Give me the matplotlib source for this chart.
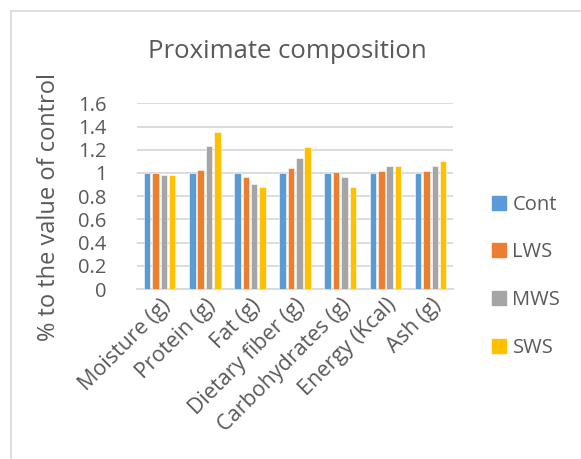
import numpy as np
import matplotlib
matplotlib.use("Agg")
import matplotlib.pyplot as plt
from matplotlib.lines import Line2D

categories = ["Moisture (g)", "Protein (g)", "Fat (g)", "Dietary fiber (g)",
              "Carbohydrates (g)", "Energy (Kcal)", "Ash (g)"]
cont = [1.0, 1.0, 1.0, 1.0, 1.0, 1.0, 1.0]
lws = [0.997, 1.026, 0.968, 1.046, 1.011, 1.014, 1.020]
mws = [0.985, 1.236, 0.908, 1.129, 0.966, 1.063, 1.060]
sws = [0.985, 1.356, 0.879, 1.227, 0.879, 1.063, 1.106]
series = ["Cont", "LWS", "MWS", "SWS"]
colors = ["#5B9BD5", "#ED7D31", "#A5A5A5", "#FFC000"]
yticks = [0, 0.2, 0.4, 0.6, 0.8, 1, 1.2, 1.4, 1.6]
ytick_labels = ["0", "0.2", "0.4", "0.6", "0.8", "1", "1.2", "1.4", "1.6"]

txt = "#595959"
plt.rcParams['font.family'] = ['Open Sans', 'DejaVu Sans']

fig = plt.figure(figsize=(5.81, 4.59), dpi=100)
ax = fig.add_axes([0.236, 0.370, 0.544, 0.405])

x = np.arange(len(categories))
pitch = 0.185
width = 0.145
for i, (vals, c) in enumerate(zip([cont, lws, mws, sws], colors)):
    ax.bar(x + (i - 1.5) * pitch, vals, width, color=c, zorder=3,
           edgecolor="white", linewidth=0.4, label=series[i])

ax.set_xlim(-0.5, len(categories) - 0.5)
ax.set_ylim(0, 1.6)
ax.set_yticks(yticks)
ax.set_yticklabels(ytick_labels)
ax.yaxis.grid(True, color="#D9D9D9", linewidth=1.3, zorder=0)
ax.set_axisbelow(True)
for s in ["top", "right", "left"]:
    ax.spines[s].set_visible(False)
ax.spines["bottom"].set_color("#D9D9D9")
ax.spines["bottom"].set_linewidth(1.3)
ax.tick_params(axis="both", length=0, labelsize=14.5, colors=txt)
ax.tick_params(axis="y", pad=22)
ax.set_xticks(x)
ax.set_xticklabels(categories, rotation=45, ha="right", rotation_mode="anchor",
                   fontsize=15.5)
for lab in ax.get_xticklabels():
    lab.set_color(txt)
ax.tick_params(axis="x", pad=4)

ax.set_ylabel("% to the value of control", fontsize=17, color=txt)
ax.yaxis.set_label_coords(-0.24, 0.44)
fig.text(0.495, 0.887, "Proximate composition", fontsize=18.5, color=txt,
         ha="center", va="center")

handles = [Line2D([0], [0], marker="s", linestyle="", markersize=9.5,
                  markerfacecolor=c, markeredgecolor=c) for c in colors]
fig.legend(handles, series, loc="upper left", bbox_to_anchor=(0.83, 0.598),
           frameon=False, fontsize=14.5, labelcolor=txt, labelspacing=1.38,
           handlelength=0.7, handletextpad=0.3, borderpad=0)

# chart frame (cropped on right and bottom)
fig.add_artist(Line2D([11 / 581, 11 / 581], [0, 1 - 11 / 459],
                      transform=fig.transFigure, color="#D9D9D9", linewidth=1.2))
fig.add_artist(Line2D([11 / 581, 1], [1 - 11 / 459, 1 - 11 / 459],
                      transform=fig.transFigure, color="#D9D9D9", linewidth=1.2))

fig.savefig("out.png", dpi=100)
